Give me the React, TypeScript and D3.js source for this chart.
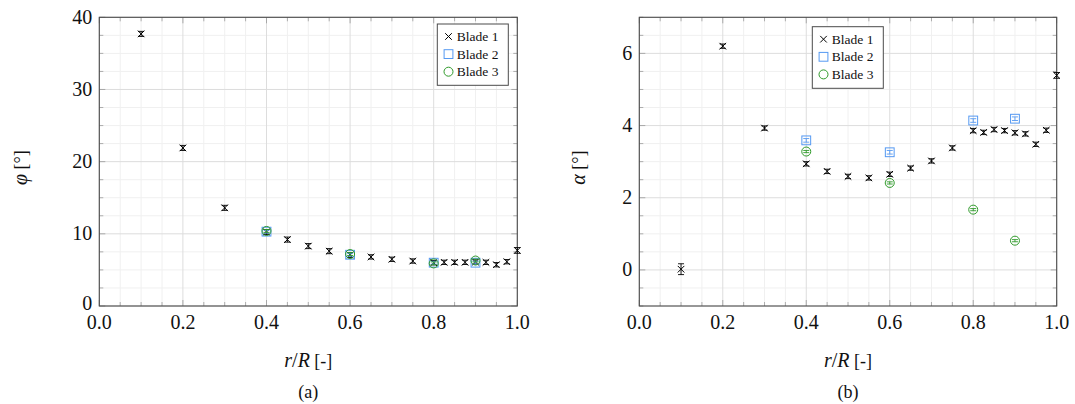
import React from "react";
import * as d3 from "d3";

const xTickValues = [0, 0.2, 0.4, 0.6, 0.8, 1.0];
const xTickLabels = ["0.0", "0.2", "0.4", "0.6", "0.8", "1.0"];
const phiTickValues = [0, 10, 20, 30, 40];
const alphaTickValues = [0, 2, 4, 6];

const rR1 = [0.1, 0.2, 0.3, 0.4, 0.45, 0.5, 0.55, 0.6, 0.65, 0.7, 0.75, 0.8, 0.825, 0.85, 0.875, 0.9, 0.925, 0.95, 0.975, 1.0];
const rR23 = [0.4, 0.6, 0.8, 0.9];

const phiBlade1 = [37.7, 21.9, 13.6, 10.25, 9.2, 8.3, 7.6, 7.06, 6.8, 6.47, 6.23, 6.0, 6.05, 6.05, 6.05, 6.1, 6.05, 5.72, 6.14, 7.7];
const phiBlade1Err = [0.35, 0.35, 0.35, 0.35, 0.35, 0.35, 0.35, 0.35, 0.3, 0.3, 0.3, 0.3, 0.3, 0.3, 0.3, 0.3, 0.3, 0.3, 0.3, 0.4];
const phiBlade2 = [10.3, 7.1, 6.0, 6.0];
const phiBlade2Err = [0.2, 0.2, 0.2, 0.2];
const phiBlade3 = [10.4, 7.2, 5.9, 6.3];
const phiBlade3Err = [0.2, 0.2, 0.2, 0.2];

const alphaBlade1 = [0.02, 6.2, 3.93, 2.94, 2.73, 2.59, 2.55, 2.65, 2.82, 3.02, 3.38, 3.86, 3.81, 3.89, 3.86, 3.8, 3.77, 3.48, 3.87, 5.39];
const alphaBlade1Err = [0.15, 0.06, 0.06, 0.06, 0.06, 0.06, 0.06, 0.06, 0.06, 0.06, 0.06, 0.06, 0.06, 0.06, 0.06, 0.06, 0.06, 0.06, 0.06, 0.08];
const alphaBlade2 = [3.59, 3.26, 4.14, 4.19];
const alphaBlade2Err = [0.05, 0.05, 0.05, 0.05];
const alphaBlade3 = [3.28, 2.41, 1.67, 0.81];
const alphaBlade3Err = [0.03, 0.03, 0.03, 0.03];

const seriesNames = ["Blade 1", "Blade 2", "Blade 3"];
const COLORS = ["#000000", "#5599f2", "#2f9a2a"];
const FF = { fontFamily: '"Liberation Serif"' };

type Series = { x: number[]; y: number[]; err: number[]; kind: number };

function Marker({ kind, cx, cy }: { kind: number; cx: number; cy: number }) {
  const c = COLORS[kind];
  if (kind === 0) {
    const s = 3.3;
    return (
      <path d={`M${cx - s},${cy - s}L${cx + s},${cy + s}M${cx - s},${cy + s}L${cx + s},${cy - s}`} stroke={c} strokeWidth={1} fill="none" />
    );
  }
  if (kind === 1) {
    const s = 4.4;
    return <rect x={cx - s} y={cy - s} width={2 * s} height={2 * s} stroke={c} strokeWidth={1} fill="none" />;
  }
  return <circle cx={cx} cy={cy} r={4.5} stroke={c} strokeWidth={1} fill="none" />;
}

function Panel(props: {
  x0: number; x1: number; y0: number; y1: number;
  yDomain: [number, number]; yTicks: number[]; yMinorStep: number;
  series: Series[]; legend: { x: number; y: number; w: number; h: number };
  yLabel: string; yLabelX: number; caption: string; zeroShift: number;
}) {
  const { x0, x1, y0, y1, yDomain, yTicks, yMinorStep, series, legend } = props;
  const xs = d3.scaleLinear().domain([0, 1]).range([x0, x1]);
  const ys = d3.scaleLinear().domain(yDomain).range([y1, y0]);
  const xMinor = d3.range(0, 1.0001, 0.05).filter((v) => Math.abs(Math.round(v * 5) - v * 5) > 1e-6);
  const yAll = d3.range(yDomain[0], yDomain[1] + 1e-6, yMinorStep);
  const isMajorY = (v: number) => Math.abs(Math.round(v / (yMinorStep * 4)) - v / (yMinorStep * 4)) < 1e-6;
  const yMinor = yAll.filter((v) => !isMajorY(v));
  const yMajorAll = yAll.filter((v) => isMajorY(v));
  const cx = (x0 + x1) / 2;
  const cy = (y0 + y1) / 2;
  const capW = 3;
  return (
    <g>
      {xMinor.map((v, i) => (
        <line key={"xmg" + i} x1={xs(v)} x2={xs(v)} y1={y0} y2={y1} stroke="#f0f0f0" strokeWidth={1} />
      ))}
      {yMinor.map((v, i) => (
        <line key={"ymg" + i} x1={x0} x2={x1} y1={ys(v)} y2={ys(v)} stroke="#f0f0f0" strokeWidth={1} />
      ))}
      {xTickValues.map((v, i) => (
        <line key={"xg" + i} x1={xs(v)} x2={xs(v)} y1={y0} y2={y1} stroke="#dddddd" strokeWidth={1} />
      ))}
      {yMajorAll.map((v, i) => (
        <line key={"yg" + i} x1={x0} x2={x1} y1={ys(v)} y2={ys(v)} stroke="#dddddd" strokeWidth={1} />
      ))}
      {xMinor.map((v, i) => (
        <g key={"xmt" + i} stroke="#9a9a9a" strokeWidth={0.8}>
          <line x1={xs(v)} x2={xs(v)} y1={y1} y2={y1 - 4} />
          <line x1={xs(v)} x2={xs(v)} y1={y0} y2={y0 + 4} />
        </g>
      ))}
      {xTickValues.map((v, i) => (
        <g key={"xt" + i} stroke="#9a9a9a" strokeWidth={0.8}>
          <line x1={xs(v)} x2={xs(v)} y1={y1} y2={y1 - 6} />
          <line x1={xs(v)} x2={xs(v)} y1={y0} y2={y0 + 6} />
        </g>
      ))}
      {yMinor.map((v, i) => (
        <g key={"ymt" + i} stroke="#9a9a9a" strokeWidth={0.8}>
          <line x1={x0} x2={x0 + 4} y1={ys(v)} y2={ys(v)} />
          <line x1={x1} x2={x1 - 4} y1={ys(v)} y2={ys(v)} />
        </g>
      ))}
      {yMajorAll.map((v, i) => (
        <g key={"yt" + i} stroke="#9a9a9a" strokeWidth={0.8}>
          <line x1={x0} x2={x0 + 6} y1={ys(v)} y2={ys(v)} />
          <line x1={x1} x2={x1 - 6} y1={ys(v)} y2={ys(v)} />
        </g>
      ))}
      <rect x={x0} y={y0} width={x1 - x0} height={y1 - y0} fill="none" stroke="#4a4a4a" strokeWidth={1.1} />
      {xTickValues.map((v, i) => (
        <text key={"xl" + i} x={xs(v)} y={y1 + 23} textAnchor="middle" style={{ ...FF, fontSize: 20 }} fill="#111">
          {xTickLabels[i]}
        </text>
      ))}
      {yTicks.map((v, i) => (
        <text key={"yl" + i} x={x0 - 7} y={ys(v) + 6.5 - (v === yDomain[0] ? props.zeroShift : 0)} textAnchor="end" style={{ ...FF, fontSize: 20 }} fill="#111">
          {String(v)}
        </text>
      ))}
      {series.map((s, si) => (
        <g key={"s" + si}>
          {s.x.map((xv, i) => {
            const px = xs(xv);
            const pt = ys(s.y[i] + s.err[i]);
            const pb = ys(s.y[i] - s.err[i]);
            const c = COLORS[s.kind];
            return (
              <g key={i}>
                <line x1={px} x2={px} y1={pt} y2={pb} stroke={c} strokeWidth={0.9} />
                <line x1={px - capW} x2={px + capW} y1={pt} y2={pt} stroke={c} strokeWidth={0.9} />
                <line x1={px - capW} x2={px + capW} y1={pb} y2={pb} stroke={c} strokeWidth={0.9} />
                <Marker kind={s.kind} cx={px} cy={ys(s.y[i])} />
              </g>
            );
          })}
        </g>
      ))}
      <rect x={legend.x} y={legend.y} width={legend.w} height={legend.h} fill="#ffffff" stroke="#4a4a4a" strokeWidth={1} />
      {seriesNames.map((n, i) => {
        const ry = legend.y + 12.5 + i * 17.6;
        return (
          <g key={"lg" + i}>
            <Marker kind={i} cx={legend.x + 11.2} cy={ry} />
            <text x={legend.x + 19.5} y={ry + 4.6} style={{ ...FF, fontSize: 13.5 }} fill="#111">
              {n}
            </text>
          </g>
        );
      })}
      <text x={cx} y={367} textAnchor="middle" style={{ ...FF, fontSize: 20 }} fill="#111">
        <tspan fontStyle="italic">r</tspan>
        <tspan>/</tspan>
        <tspan fontStyle="italic">R</tspan>
        <tspan style={{ fontSize: 18 }}> [-]</tspan>
      </text>
      <text x={cx} y={398} textAnchor="middle" style={{ ...FF, fontSize: 18 }} fill="#111">
        {props.caption}
      </text>
      <text
        transform={`translate(${props.yLabelX},${cy + 6}) rotate(-90)`}
        textAnchor="middle"
        style={{ ...FF, fontSize: 20 }}
        fill="#111"
      >
        <tspan fontStyle="italic">{props.yLabel}</tspan>
        <tspan style={{ fontSize: 18 }}> [°]</tspan>
      </text>
    </g>
  );
}

export default function App() {
  const phiSeries: Series[] = [
    { x: rR1, y: phiBlade1, err: phiBlade1Err, kind: 0 },
    { x: rR23, y: phiBlade2, err: phiBlade2Err, kind: 1 },
    { x: rR23, y: phiBlade3, err: phiBlade3Err, kind: 2 },
  ];
  const alphaSeries: Series[] = [
    { x: rR1, y: alphaBlade1, err: alphaBlade1Err, kind: 0 },
    { x: rR23, y: alphaBlade2, err: alphaBlade2Err, kind: 1 },
    { x: rR23, y: alphaBlade3, err: alphaBlade3Err, kind: 2 },
  ];
  return (
    <svg width={1075} height={404} style={{ position: "absolute", left: 0, top: 0, background: "#fff", ...FF }}>
      <rect x={0} y={0} width={1075} height={404} fill="#fff" />
      <Panel
        x0={99.3} x1={517.3} y0={17.3} y1={306}
        yDomain={[0, 40]} yTicks={phiTickValues} yMinorStep={2.5}
        series={phiSeries}
        legend={{ x: 437.3, y: 24, w: 71, h: 61.3 }}
        yLabel="φ" yLabelX={27} caption="(a)" zeroShift={3}
      />
      <Panel
        x0={639.3} x1={1056.7} y0={17.3} y1={306}
        yDomain={[-1, 7]} yTicks={alphaTickValues} yMinorStep={0.5}
        series={alphaSeries}
        legend={{ x: 812.3, y: 26.7, w: 71, h: 61.6 }}
        yLabel="α" yLabelX={585} caption="(b)" zeroShift={0}
      />
    </svg>
  );
}
